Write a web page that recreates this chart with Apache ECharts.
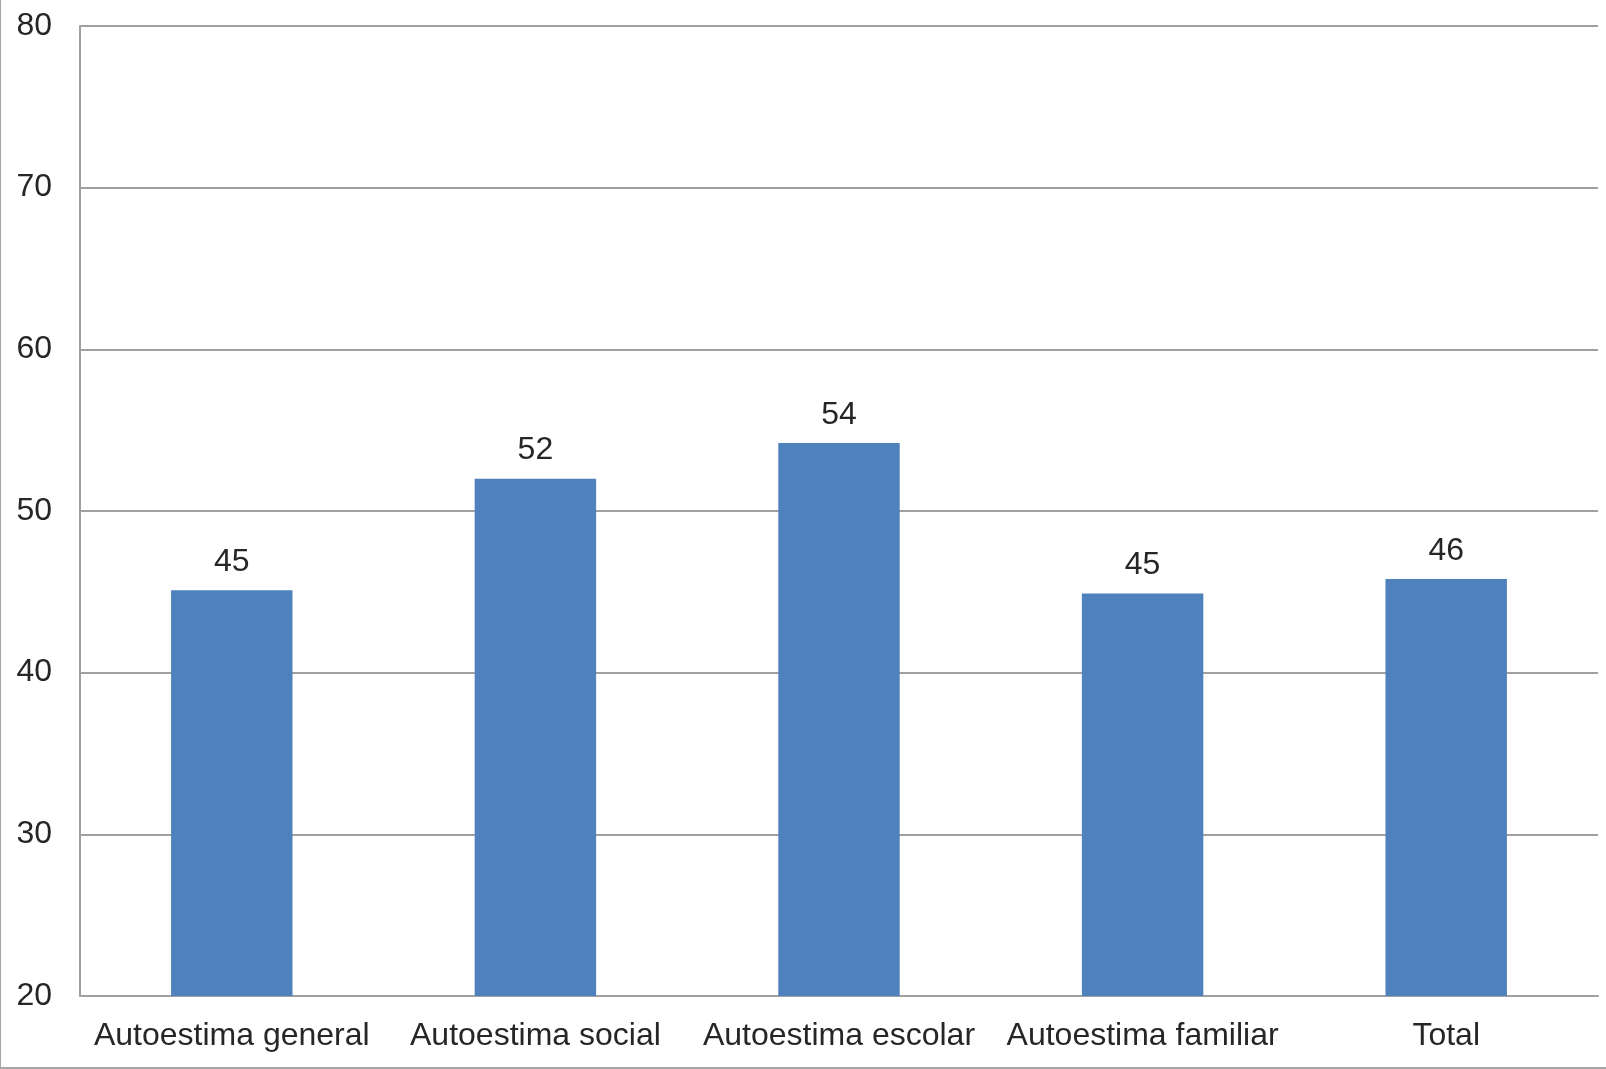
<!DOCTYPE html>
<html>
<head>
<meta charset="utf-8">
<title>Autoestima</title>
<script src="https://cdn.jsdelivr.net/npm/echarts@6/dist/echarts.min.js"></script>
<style>
  html, body { margin: 0; padding: 0; background: #ffffff; }
  #chart { position: absolute; left: 0; top: 0; width: 1606px; height: 1069px; }
  #frame { position: absolute; left: 0; top: 0; width: 1606px; height: 1069px;
           box-sizing: border-box; border-left: 1px solid #a6a6a6; border-bottom: 2px solid #a6a6a6;
           pointer-events: none; }
</style>
</head>
<body>
<div id="chart"></div>
<div id="frame"></div>
<script>
// Mean scores per self-esteem dimension
const categories = ['Autoestima general', 'Autoestima social', 'Autoestima escolar', 'Autoestima familiar', 'Total'];
const scores = [45.1, 52.0, 54.2, 44.9, 45.8];
const yTicks = [20, 30, 40, 50, 60, 70, 80];

const textColor = '#262626';
const lineColor = '#a0a0a0';
const fontFamily = '"Liberation Sans", Arial, sans-serif';

const chart = echarts.init(document.getElementById('chart'), null, { renderer: 'canvas' });

chart.setOption({
  animation: false,
  backgroundColor: '#ffffff',
  grid: { left: 80, right: 8, top: 26, bottom: 73, containLabel: false },
  xAxis: {
    type: 'category',
    data: categories,
    axisLine: { show: true, lineStyle: { color: lineColor, width: 2 } },
    axisTick: { show: false },
    axisLabel: { color: textColor, fontSize: 32, fontFamily: fontFamily, margin: 24, interval: 0 }
  },
  yAxis: {
    type: 'value',
    min: yTicks[0],
    max: yTicks[yTicks.length - 1],
    interval: yTicks[1] - yTicks[0],
    axisLine: { show: true, lineStyle: { color: lineColor, width: 2 } },
    axisTick: { show: false },
    splitLine: { show: true, lineStyle: { color: lineColor, width: 2 } },
    axisLabel: { color: textColor, fontSize: 32, fontFamily: fontFamily, margin: 28, padding: [8, 0, 0, 0] }
  },
  series: [{
    type: 'bar',
    data: scores,
    barWidth: '40%',
    itemStyle: { color: '#4f81bd' },
    label: {
      show: true,
      position: 'top',
      distance: 12,
      color: textColor,
      fontSize: 32,
      fontFamily: fontFamily,
      formatter: p => Math.round(p.value).toString()
    }
  }]
});
</script>
</body>
</html>
